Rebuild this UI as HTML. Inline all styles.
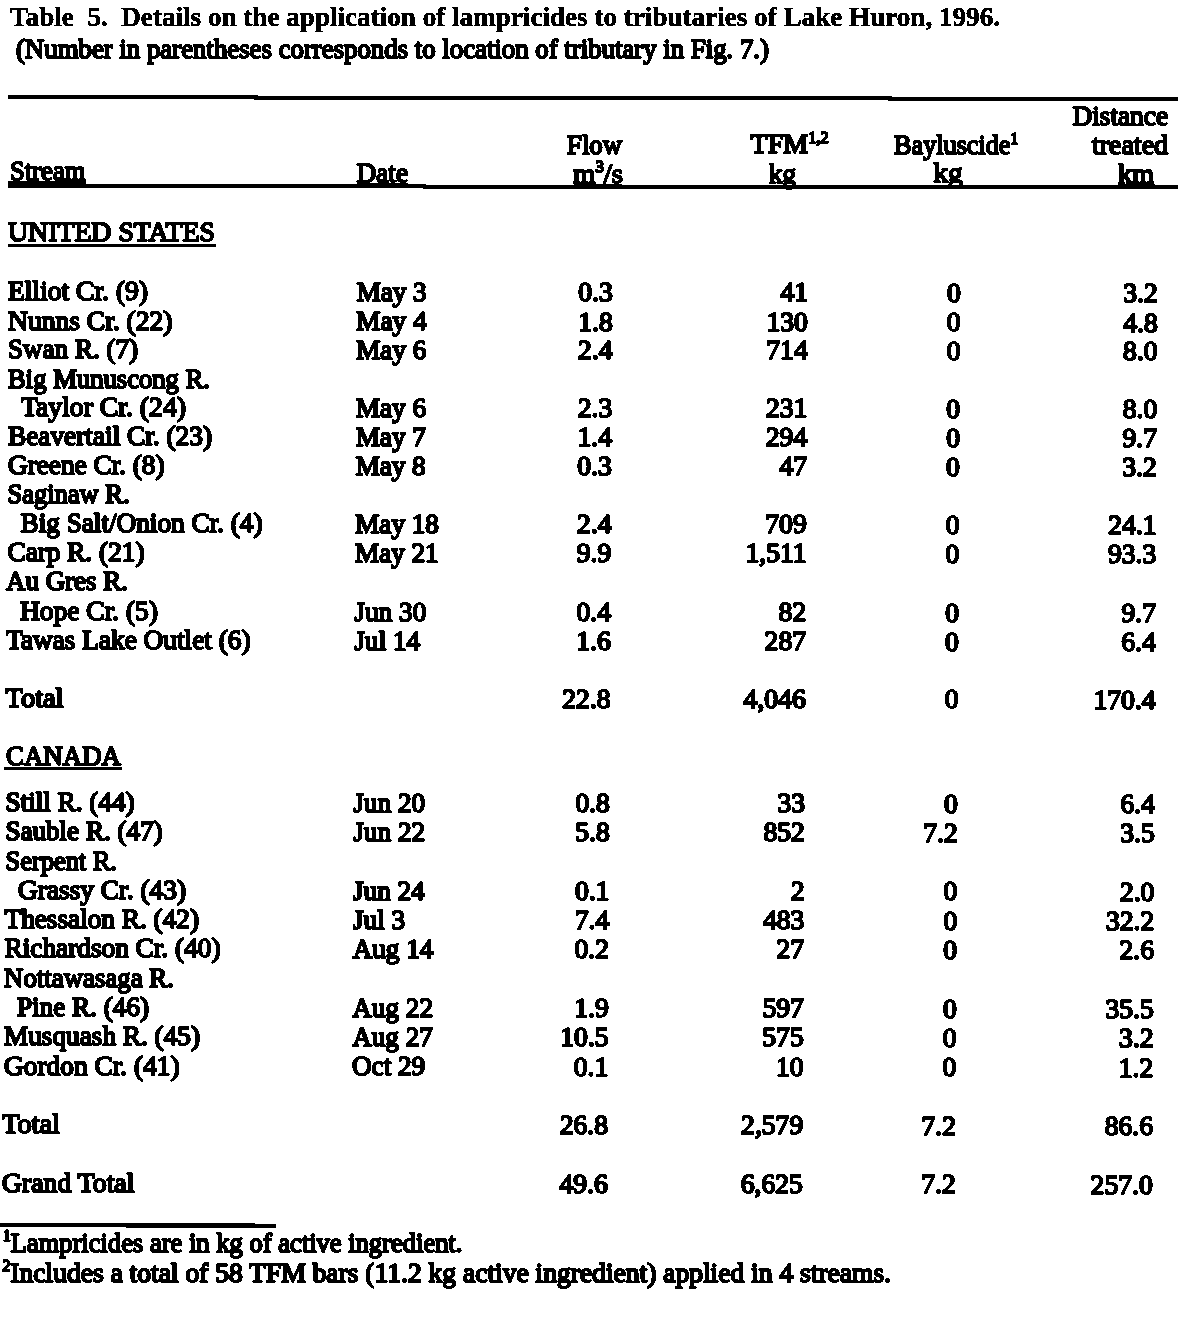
<!DOCTYPE html>
<html lang="en"><head><meta charset="utf-8"><title>Table 5</title>
<style>
html,body{margin:0;padding:0;background:#fff;}
body{width:1201px;height:1334px;overflow:hidden;}
svg{display:block;}
text{font-family:"Liberation Serif","Times New Roman",serif;font-size:28.0px;fill:#000;stroke:#000;stroke-width:2.0px;stroke-linejoin:round;white-space:pre;}
text.b{font-weight:bold;stroke-width:0.5px;}
</style></head><body>
<svg width="1201" height="1334" viewBox="0 0 1201 1334" xml:space="preserve">
<rect width="1201" height="1334" fill="#fff"/>
<defs><filter id="th" x="0" y="0" width="1201" height="1334" filterUnits="userSpaceOnUse" color-interpolation-filters="sRGB"><feComponentTransfer><feFuncA type="discrete" tableValues="0 1"/></feComponentTransfer></filter></defs>
<g filter="url(#th)">
<text x="10.0" y="25.8" textLength="990.0" lengthAdjust="spacingAndGlyphs" class="b">Table  5.  Details on the application of lampricides to tributaries of Lake Huron, 1996.</text>
<text x="16.0" y="57.6" textLength="753.0" lengthAdjust="spacingAndGlyphs">(Number in parentheses corresponds to location of tributary in Fig. 7.)</text>
<line x1="8.0" y1="97.0" x2="1178.0" y2="99.0" stroke="#000" stroke-width="4"/>
<polyline points="8,185.5 600,187 1178,187" fill="none" stroke="#000" stroke-width="4"/>
<line x1="0.0" y1="1225.0" x2="276.0" y2="1225.5" stroke="#000" stroke-width="4.5"/>
<text x="10.0" y="180.0" textLength="75.5" lengthAdjust="spacingAndGlyphs">Stream</text>
<line x1="8.0" y1="182.3" x2="86.0" y2="182.4" stroke="#000" stroke-width="2"/>
<text x="356.5" y="182.0" textLength="51.5" lengthAdjust="spacingAndGlyphs">Date</text>
<line x1="356.5" y1="184.0" x2="408.0" y2="184.1" stroke="#000" stroke-width="1.5"/>
<text x="567.0" y="153.5" textLength="55.0" lengthAdjust="spacingAndGlyphs">Flow</text>
<text x="573" y="182.5" textLength="50" lengthAdjust="spacingAndGlyphs">m<tspan font-size="16" dy="-10.5">3</tspan><tspan dy="10.5">/s</tspan></text>
<line x1="573.5" y1="185.0" x2="622.0" y2="185.1" stroke="#000" stroke-width="1.6"/>
<text x="750.5" y="153" textLength="78" lengthAdjust="spacingAndGlyphs">TFM<tspan font-size="16" dy="-10.5">1,2</tspan></text>
<text x="769.0" y="182.5" textLength="27.0" lengthAdjust="spacingAndGlyphs">kg</text>
<text x="894" y="154" textLength="124" lengthAdjust="spacingAndGlyphs">Bayluscide<tspan font-size="16" dy="-10.5">1</tspan></text>
<text x="933.5" y="182.3" textLength="29.0" lengthAdjust="spacingAndGlyphs">kg</text>
<text x="1072.5" y="125.0" textLength="95.5" lengthAdjust="spacingAndGlyphs">Distance</text>
<text x="1092.0" y="153.5" textLength="76.0" lengthAdjust="spacingAndGlyphs">treated</text>
<text x="1118.0" y="182.5" textLength="36.0" lengthAdjust="spacingAndGlyphs">km</text>
<line x1="1118.0" y1="184.5" x2="1155.0" y2="184.6" stroke="#000" stroke-width="1.5"/>
<text x="8.0" y="241.0" textLength="207.0" lengthAdjust="spacingAndGlyphs">UNITED STATES</text>
<line x1="8.0" y1="245.3" x2="216.0" y2="245.7" stroke="#000" stroke-width="3"/>
<text x="6.0" y="765.0" textLength="115.0" lengthAdjust="spacingAndGlyphs">CANADA</text>
<line x1="4.0" y1="768.5" x2="122.0" y2="768.7" stroke="#000" stroke-width="3"/>
<text x="8.0" y="300.0" textLength="140.0" lengthAdjust="spacingAndGlyphs">Elliot Cr. (9)</text>
<text x="356.5" y="300.9" textLength="70.2" lengthAdjust="spacingAndGlyphs">May 3</text>
<text x="578.3" y="301.0" textLength="34.5" lengthAdjust="spacingAndGlyphs">0.3</text>
<text x="780.4" y="301.1" textLength="27.6" lengthAdjust="spacingAndGlyphs">41</text>
<text x="947.0" y="301.6" textLength="13.8" lengthAdjust="spacingAndGlyphs">0</text>
<text x="1123.3" y="302.0" textLength="34.5" lengthAdjust="spacingAndGlyphs">3.2</text>
<text x="8.0" y="329.5" textLength="164.5" lengthAdjust="spacingAndGlyphs">Nunns Cr. (22)</text>
<text x="356.3" y="330.4" textLength="70.2" lengthAdjust="spacingAndGlyphs">May 4</text>
<text x="578.2" y="330.5" textLength="34.5" lengthAdjust="spacingAndGlyphs">1.8</text>
<text x="766.5" y="330.6" textLength="41.4" lengthAdjust="spacingAndGlyphs">130</text>
<text x="946.8" y="331.1" textLength="13.8" lengthAdjust="spacingAndGlyphs">0</text>
<text x="1123.2" y="331.5" textLength="34.5" lengthAdjust="spacingAndGlyphs">4.8</text>
<text x="8.0" y="358.3" textLength="130.0" lengthAdjust="spacingAndGlyphs">Swan R. (7)</text>
<text x="356.2" y="359.2" textLength="70.2" lengthAdjust="spacingAndGlyphs">May 6</text>
<text x="578.0" y="359.3" textLength="34.5" lengthAdjust="spacingAndGlyphs">2.4</text>
<text x="766.3" y="359.4" textLength="41.4" lengthAdjust="spacingAndGlyphs">714</text>
<text x="946.7" y="359.9" textLength="13.8" lengthAdjust="spacingAndGlyphs">0</text>
<text x="1123.0" y="360.3" textLength="34.5" lengthAdjust="spacingAndGlyphs">8.0</text>
<text x="8.0" y="387.5" textLength="202.0" lengthAdjust="spacingAndGlyphs">Big Munuscong R.</text>
<text x="21.0" y="416.3" textLength="165.0" lengthAdjust="spacingAndGlyphs">Taylor Cr. (24)</text>
<text x="355.8" y="417.2" textLength="70.2" lengthAdjust="spacingAndGlyphs">May 6</text>
<text x="577.7" y="417.3" textLength="34.5" lengthAdjust="spacingAndGlyphs">2.3</text>
<text x="766.0" y="417.4" textLength="41.4" lengthAdjust="spacingAndGlyphs">231</text>
<text x="946.3" y="417.9" textLength="13.8" lengthAdjust="spacingAndGlyphs">0</text>
<text x="1122.7" y="418.3" textLength="34.5" lengthAdjust="spacingAndGlyphs">8.0</text>
<text x="8.0" y="445.0" textLength="204.0" lengthAdjust="spacingAndGlyphs">Beavertail Cr. (23)</text>
<text x="355.7" y="445.9" textLength="70.2" lengthAdjust="spacingAndGlyphs">May 7</text>
<text x="577.5" y="446.0" textLength="34.5" lengthAdjust="spacingAndGlyphs">1.4</text>
<text x="765.8" y="446.1" textLength="41.4" lengthAdjust="spacingAndGlyphs">294</text>
<text x="946.2" y="446.6" textLength="13.8" lengthAdjust="spacingAndGlyphs">0</text>
<text x="1122.5" y="447.0" textLength="34.5" lengthAdjust="spacingAndGlyphs">9.7</text>
<text x="8.0" y="474.0" textLength="156.5" lengthAdjust="spacingAndGlyphs">Greene Cr. (8)</text>
<text x="355.5" y="474.9" textLength="70.2" lengthAdjust="spacingAndGlyphs">May 8</text>
<text x="577.3" y="475.0" textLength="34.5" lengthAdjust="spacingAndGlyphs">0.3</text>
<text x="779.4" y="475.1" textLength="27.6" lengthAdjust="spacingAndGlyphs">47</text>
<text x="946.0" y="475.6" textLength="13.8" lengthAdjust="spacingAndGlyphs">0</text>
<text x="1122.3" y="476.0" textLength="34.5" lengthAdjust="spacingAndGlyphs">3.2</text>
<text x="7.5" y="503.0" textLength="122.0" lengthAdjust="spacingAndGlyphs">Saginaw R.</text>
<text x="20.5" y="532.0" textLength="242.0" lengthAdjust="spacingAndGlyphs">Big Salt/Onion Cr. (4)</text>
<text x="355.2" y="532.9" textLength="83.7" lengthAdjust="spacingAndGlyphs">May 18</text>
<text x="577.0" y="533.0" textLength="34.5" lengthAdjust="spacingAndGlyphs">2.4</text>
<text x="765.3" y="533.1" textLength="41.4" lengthAdjust="spacingAndGlyphs">709</text>
<text x="945.7" y="533.6" textLength="13.8" lengthAdjust="spacingAndGlyphs">0</text>
<text x="1108.2" y="534.0" textLength="48.3" lengthAdjust="spacingAndGlyphs">24.1</text>
<text x="7.5" y="561.3" textLength="137.0" lengthAdjust="spacingAndGlyphs">Carp R. (21)</text>
<text x="355.0" y="562.2" textLength="83.7" lengthAdjust="spacingAndGlyphs">May 21</text>
<text x="576.8" y="562.3" textLength="34.5" lengthAdjust="spacingAndGlyphs">9.9</text>
<text x="745.5" y="562.4" textLength="61.0" lengthAdjust="spacingAndGlyphs">1,511</text>
<text x="945.5" y="562.9" textLength="13.8" lengthAdjust="spacingAndGlyphs">0</text>
<text x="1108.0" y="563.3" textLength="48.3" lengthAdjust="spacingAndGlyphs">93.3</text>
<text x="6.0" y="590.0" textLength="122.0" lengthAdjust="spacingAndGlyphs">Au Gres R.</text>
<text x="20.0" y="620.0" textLength="138.0" lengthAdjust="spacingAndGlyphs">Hope Cr. (5)</text>
<text x="354.6" y="620.9" textLength="71.7" lengthAdjust="spacingAndGlyphs">Jun 30</text>
<text x="576.5" y="621.0" textLength="34.5" lengthAdjust="spacingAndGlyphs">0.4</text>
<text x="778.6" y="621.1" textLength="27.6" lengthAdjust="spacingAndGlyphs">82</text>
<text x="945.2" y="621.6" textLength="13.8" lengthAdjust="spacingAndGlyphs">0</text>
<text x="1121.5" y="622.0" textLength="34.5" lengthAdjust="spacingAndGlyphs">9.7</text>
<text x="6.0" y="649.0" textLength="244.5" lengthAdjust="spacingAndGlyphs">Tawas Lake Outlet (6)</text>
<text x="354.5" y="649.9" textLength="65.6" lengthAdjust="spacingAndGlyphs">Jul 14</text>
<text x="576.3" y="650.0" textLength="34.5" lengthAdjust="spacingAndGlyphs">1.6</text>
<text x="764.6" y="650.1" textLength="41.4" lengthAdjust="spacingAndGlyphs">287</text>
<text x="945.0" y="650.6" textLength="13.8" lengthAdjust="spacingAndGlyphs">0</text>
<text x="1121.3" y="651.0" textLength="34.5" lengthAdjust="spacingAndGlyphs">6.4</text>
<text x="5.6" y="706.5" textLength="57.9" lengthAdjust="spacingAndGlyphs">Total</text>
<text x="562.2" y="707.5" textLength="48.3" lengthAdjust="spacingAndGlyphs">22.8</text>
<text x="743.6" y="707.6" textLength="62.1" lengthAdjust="spacingAndGlyphs">4,046</text>
<text x="944.7" y="708.1" textLength="13.8" lengthAdjust="spacingAndGlyphs">0</text>
<text x="1093.4" y="708.5" textLength="62.1" lengthAdjust="spacingAndGlyphs">170.4</text>
<text x="5.5" y="811.0" textLength="129.0" lengthAdjust="spacingAndGlyphs">Still R. (44)</text>
<text x="353.5" y="811.9" textLength="71.7" lengthAdjust="spacingAndGlyphs">Jun 20</text>
<text x="575.4" y="812.0" textLength="34.5" lengthAdjust="spacingAndGlyphs">0.8</text>
<text x="777.5" y="812.1" textLength="27.6" lengthAdjust="spacingAndGlyphs">33</text>
<text x="944.0" y="812.6" textLength="13.8" lengthAdjust="spacingAndGlyphs">0</text>
<text x="1120.4" y="813.0" textLength="34.5" lengthAdjust="spacingAndGlyphs">6.4</text>
<text x="5.5" y="840.3" textLength="157.0" lengthAdjust="spacingAndGlyphs">Sauble R. (47)</text>
<text x="353.4" y="841.2" textLength="71.7" lengthAdjust="spacingAndGlyphs">Jun 22</text>
<text x="575.2" y="841.3" textLength="34.5" lengthAdjust="spacingAndGlyphs">5.8</text>
<text x="763.5" y="841.4" textLength="41.4" lengthAdjust="spacingAndGlyphs">852</text>
<text x="923.2" y="841.9" textLength="34.5" lengthAdjust="spacingAndGlyphs">7.2</text>
<text x="1120.2" y="842.3" textLength="34.5" lengthAdjust="spacingAndGlyphs">3.5</text>
<text x="5.5" y="869.5" textLength="111.5" lengthAdjust="spacingAndGlyphs">Serpent R.</text>
<text x="18.0" y="898.8" textLength="168.0" lengthAdjust="spacingAndGlyphs">Grassy Cr. (43)</text>
<text x="353.0" y="899.7" textLength="71.7" lengthAdjust="spacingAndGlyphs">Jun 24</text>
<text x="574.9" y="899.8" textLength="34.5" lengthAdjust="spacingAndGlyphs">0.1</text>
<text x="790.7" y="899.9" textLength="13.8" lengthAdjust="spacingAndGlyphs">2</text>
<text x="943.5" y="900.4" textLength="13.8" lengthAdjust="spacingAndGlyphs">0</text>
<text x="1119.9" y="900.8" textLength="34.5" lengthAdjust="spacingAndGlyphs">2.0</text>
<text x="4.5" y="928.0" textLength="194.5" lengthAdjust="spacingAndGlyphs">Thessalon R. (42)</text>
<text x="352.9" y="928.9" textLength="52.1" lengthAdjust="spacingAndGlyphs">Jul 3</text>
<text x="574.7" y="929.0" textLength="34.5" lengthAdjust="spacingAndGlyphs">7.4</text>
<text x="763.0" y="929.1" textLength="41.4" lengthAdjust="spacingAndGlyphs">483</text>
<text x="943.4" y="929.6" textLength="13.8" lengthAdjust="spacingAndGlyphs">0</text>
<text x="1105.9" y="930.0" textLength="48.3" lengthAdjust="spacingAndGlyphs">32.2</text>
<text x="4.5" y="957.3" textLength="216.0" lengthAdjust="spacingAndGlyphs">Richardson Cr. (40)</text>
<text x="352.7" y="958.2" textLength="80.7" lengthAdjust="spacingAndGlyphs">Aug 14</text>
<text x="574.5" y="958.3" textLength="34.5" lengthAdjust="spacingAndGlyphs">0.2</text>
<text x="776.6" y="958.4" textLength="27.6" lengthAdjust="spacingAndGlyphs">27</text>
<text x="943.2" y="958.9" textLength="13.8" lengthAdjust="spacingAndGlyphs">0</text>
<text x="1119.5" y="959.3" textLength="34.5" lengthAdjust="spacingAndGlyphs">2.6</text>
<text x="4.0" y="986.7" textLength="170.0" lengthAdjust="spacingAndGlyphs">Nottawasaga R.</text>
<text x="17.0" y="1016.0" textLength="132.0" lengthAdjust="spacingAndGlyphs">Pine R. (46)</text>
<text x="352.3" y="1016.9" textLength="80.7" lengthAdjust="spacingAndGlyphs">Aug 22</text>
<text x="574.2" y="1017.0" textLength="34.5" lengthAdjust="spacingAndGlyphs">1.9</text>
<text x="762.5" y="1017.1" textLength="41.4" lengthAdjust="spacingAndGlyphs">597</text>
<text x="942.9" y="1017.6" textLength="13.8" lengthAdjust="spacingAndGlyphs">0</text>
<text x="1105.4" y="1018.0" textLength="48.3" lengthAdjust="spacingAndGlyphs">35.5</text>
<text x="4.0" y="1045.0" textLength="196.0" lengthAdjust="spacingAndGlyphs">Musquash R. (45)</text>
<text x="352.2" y="1045.9" textLength="80.7" lengthAdjust="spacingAndGlyphs">Aug 27</text>
<text x="560.2" y="1046.0" textLength="48.3" lengthAdjust="spacingAndGlyphs">10.5</text>
<text x="762.3" y="1046.1" textLength="41.4" lengthAdjust="spacingAndGlyphs">575</text>
<text x="942.7" y="1046.6" textLength="13.8" lengthAdjust="spacingAndGlyphs">0</text>
<text x="1119.0" y="1047.0" textLength="34.5" lengthAdjust="spacingAndGlyphs">3.2</text>
<text x="4.0" y="1074.5" textLength="175.5" lengthAdjust="spacingAndGlyphs">Gordon Cr. (41)</text>
<text x="352.0" y="1075.4" textLength="73.2" lengthAdjust="spacingAndGlyphs">Oct 29</text>
<text x="573.8" y="1075.5" textLength="34.5" lengthAdjust="spacingAndGlyphs">0.1</text>
<text x="775.9" y="1075.6" textLength="27.6" lengthAdjust="spacingAndGlyphs">10</text>
<text x="942.5" y="1076.1" textLength="13.8" lengthAdjust="spacingAndGlyphs">0</text>
<text x="1118.8" y="1076.5" textLength="34.5" lengthAdjust="spacingAndGlyphs">1.2</text>
<text x="2.0" y="1133.0" textLength="58.0" lengthAdjust="spacingAndGlyphs">Total</text>
<text x="559.7" y="1134.0" textLength="48.3" lengthAdjust="spacingAndGlyphs">26.8</text>
<text x="741.1" y="1134.1" textLength="62.1" lengthAdjust="spacingAndGlyphs">2,579</text>
<text x="921.5" y="1134.6" textLength="34.5" lengthAdjust="spacingAndGlyphs">7.2</text>
<text x="1104.7" y="1135.0" textLength="48.3" lengthAdjust="spacingAndGlyphs">86.6</text>
<text x="2.0" y="1191.5" textLength="132.4" lengthAdjust="spacingAndGlyphs">Grand Total</text>
<text x="559.4" y="1192.5" textLength="48.3" lengthAdjust="spacingAndGlyphs">49.6</text>
<text x="740.8" y="1192.6" textLength="62.1" lengthAdjust="spacingAndGlyphs">6,625</text>
<text x="921.2" y="1193.1" textLength="34.5" lengthAdjust="spacingAndGlyphs">7.2</text>
<text x="1090.6" y="1193.5" textLength="62.1" lengthAdjust="spacingAndGlyphs">257.0</text>
<text x="3" y="1251.5" textLength="459.5" lengthAdjust="spacingAndGlyphs"><tspan font-size="16" dy="-10.5">1</tspan><tspan dy="10.5">Lampricides are in kg of active ingredient.</tspan></text>
<text x="2.5" y="1281.5" textLength="888.5" lengthAdjust="spacingAndGlyphs"><tspan font-size="16" dy="-10.5">2</tspan><tspan dy="10.5">Includes a total of 58 TFM bars (11.2 kg active ingredient) applied in 4 streams.</tspan></text>
</g>
</svg>
</body></html>
